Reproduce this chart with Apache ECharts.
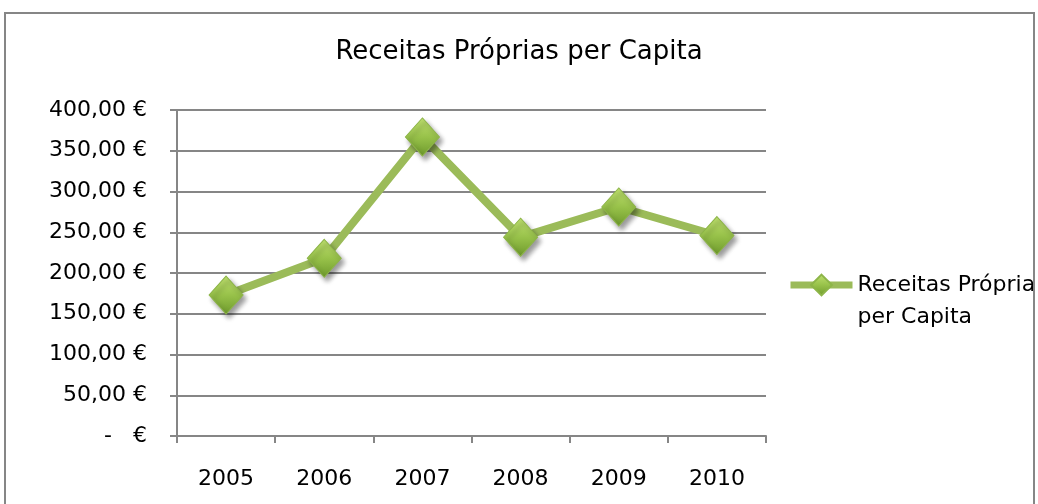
<!DOCTYPE html>
<html>
<head>
<meta charset="utf-8">
<script src="https://cdn.jsdelivr.net/npm/echarts@6/dist/echarts.min.js"></script>
<style>
  html, body { margin: 0; padding: 0; background: #fff; }
  #chart { width: 1038px; height: 504px; }
</style>
</head>
<body>
<div id="chart"></div>
<script>
// categorias e valores
const years = ['2005', '2006', '2007', '2008', '2009', '2010']
const receitas = [173, 218, 367, 244, 281, 246]
const seriesName = 'Receitas Próprias per Capita'

const chart = echarts.init(document.getElementById('chart'))

const gray = '#868686'
const green = '#9bbb59'
const font = 'DejaVu Sans'

const option = {
  animation: false,
  // moldura exterior (por cima da legenda, que é cortada)
  graphic: [{
    type: 'rect',
    z: 100,
    shape: { x: 5, y: 13, width: 1029, height: 500 },
    style: { fill: 'none', stroke: gray, lineWidth: 2 }
  }, {
    type: 'rect',
    z: 99,
    shape: { x: 1035, y: 0, width: 10, height: 504 },
    style: { fill: '#fff' }
  }],
  title: {
    text: seriesName,
    left: 'center',
    top: 34,
    textStyle: { fontFamily: font, fontSize: 26, fontWeight: 'normal', color: '#000' }
  },
  grid: { left: 177, right: 272, top: 110, bottom: 68 },
  legend: {
    left: 787,
    top: 237,
    padding: 0,
    itemWidth: 62,
    itemHeight: 26,
    itemGap: 0,
    lineStyle: { width: 7 },
    // linha vazia no topo para alinhar o ícone com a primeira linha do texto
    formatter: () => '\nReceitas Próprias\nper Capita',
    textStyle: { fontFamily: font, fontSize: 22, color: '#000', lineHeight: 32 }
  },
  xAxis: {
    type: 'category',
    data: years,
    axisLine: { lineStyle: { color: gray, width: 2 } },
    axisTick: { show: true, length: 7, lineStyle: { color: gray, width: 2 } },
    axisLabel: { margin: 32, fontFamily: font, fontSize: 22, color: '#000' }
  },
  yAxis: {
    type: 'value',
    min: 0,
    max: 400,
    interval: 50,
    axisLine: { show: true, lineStyle: { color: gray, width: 2 } },
    axisTick: { show: true, length: 7, lineStyle: { color: gray, width: 2 } },
    splitLine: { lineStyle: { color: gray, width: 2 } },
    axisLabel: {
      margin: 30,
      fontFamily: font,
      fontSize: 22,
      color: '#000',
      formatter: v => v === 0 ? '-   €' : v.toFixed(2).replace('.', ',') + ' €'
    }
  },
  series: [{
    name: seriesName,
    type: 'line',
    data: receitas,
    symbol: 'diamond',
    symbolSize: [34, 38],
    lineStyle: { color: green, width: 8 },
    itemStyle: {
      color: new echarts.graphic.LinearGradient(0, 0, 0, 1, [
        { offset: 0, color: '#bfe070' },
        { offset: 0.5, color: '#98c24a' },
        { offset: 1, color: '#6e9a2c' }
      ]),
      borderColor: '#8db548',
      borderWidth: 1,
      shadowColor: 'rgba(0,0,0,0.4)',
      shadowBlur: 5,
      shadowOffsetX: 3,
      shadowOffsetY: 4
    }
  }]
}

chart.setOption(option)
</script>
</body>
</html>
